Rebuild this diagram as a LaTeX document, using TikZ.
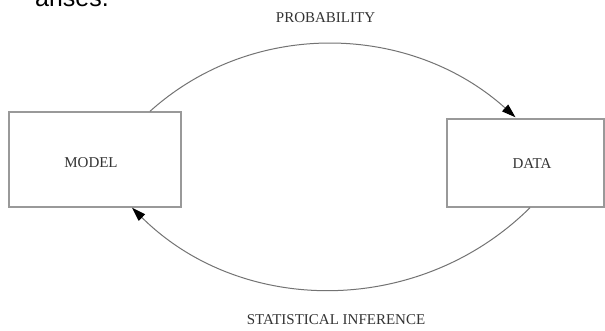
\documentclass[tikz,border=0pt]{standalone}
\usepackage{fontspec}
\setmainfont{Liberation Serif}
\newfontfamily\arialfont{Liberation Sans}
\usetikzlibrary{arrows.meta,calc}
\definecolor{linegray}{gray}{0.45}
\definecolor{boxgray}{gray}{0.6}
\definecolor{textgray}{gray}{0.2}
\tikzset{
  x=1pt, y=-1pt,
  labeltext/.style={text=textgray, font=\fontsize{15}{18}\selectfont, inner sep=0pt},
  block/.style={draw=boxgray, line width=1.4pt, minimum width=#1, inner sep=0pt},
  flow/.style={draw=linegray, line width=1pt, -{Triangle[length=14pt,width=9pt,fill=black,color=black]}},
}
\begin{document}
\begin{tikzpicture}
\useasboundingbox (0,0) rectangle (605,331);
\fill[white] (0,0) rectangle (605,331);
% cropped text fragment at top
\node[anchor=base west, inner sep=0pt, text=black, font=\arialfont\fontsize{25}{30}\selectfont] (frag) at (35,7) {arises.};
% boxes
\node[block=172pt, minimum height=95pt] (model) at (95,159.5) {};
\node[block=157pt, minimum height=88pt] (data) at (525.5,163) {};
\node[labeltext] (modeltxt) at (91,163) {MODEL};
\node[labeltext] (datatxt) at (532,164) {DATA};
% arcs
\coordinate (ps) at ($(model.north)+(55,0)$);
\coordinate (pe) at ($(data.north)+(-10,-1)$);
\coordinate (ss) at ($(data.south)+(4.5,0)$);
\coordinate (se) at ($(model.south)+(37,0)$);
\draw[flow] (ps) .. controls +(104,-93.5) and +(-104,-93.5) .. (pe);
\draw[flow] (ss) .. controls +(-110,109) and +(110,109) .. (se);
% labels
\node[labeltext] (prob) at (325.5,18) {PROBABILITY};
\node[labeltext] (stat) at (336,320) {STATISTICAL INFERENCE};
\end{tikzpicture}
\end{document}
